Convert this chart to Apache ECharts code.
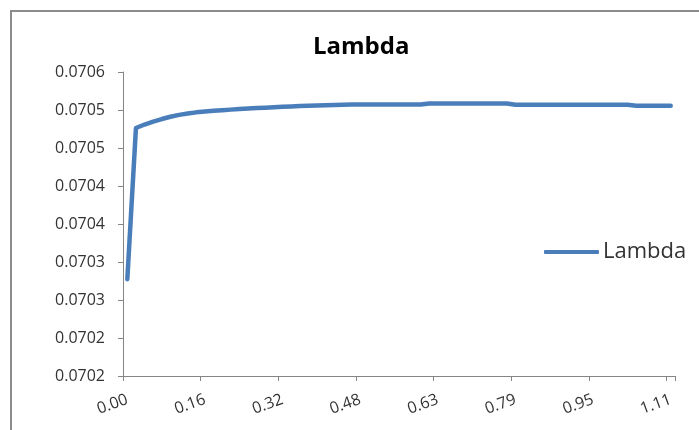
<!DOCTYPE html>
<html>
<head>
<meta charset="utf-8">
<script src="https://cdn.jsdelivr.net/npm/echarts@6/dist/echarts.min.js"></script>
<style>
html,body{margin:0;padding:0;background:#fff;}
#chart{width:699px;height:430px;}
</style>
</head>
<body>
<div id="chart"></div>
<script>
var titleText = 'Lambda';
var seriesName = 'Lambda';
var categories = [
  0.0000, 0.0176, 0.0352, 0.0529, 0.0705, 0.0881, 0.1057, 0.1233,
  0.1410, 0.1586, 0.1762, 0.1938, 0.2114, 0.2290, 0.2467, 0.2643,
  0.2819, 0.2995, 0.3171, 0.3348, 0.3524, 0.3700, 0.3876, 0.4052,
  0.4229, 0.4405, 0.4581, 0.4757, 0.4933, 0.5110, 0.5286, 0.5462,
  0.5638, 0.5814, 0.5990, 0.6167, 0.6343, 0.6519, 0.6695, 0.6871,
  0.7048, 0.7224, 0.7400, 0.7576, 0.7752, 0.7929, 0.8105, 0.8281,
  0.8457, 0.8633, 0.8810, 0.8986, 0.9162, 0.9338, 0.9514, 0.9690,
  0.9867, 1.0043, 1.0219, 1.0395, 1.0571, 1.0748, 1.0924, 1.1100
];
var lambdaValues = [
  0.0702774, 0.0704763, 0.0704809, 0.0704848, 0.0704881, 0.0704911, 0.0704936, 0.0704953,
  0.0704969, 0.0704980, 0.0704989, 0.0704997, 0.0705005, 0.0705013, 0.0705019, 0.0705026,
  0.0705031, 0.0705036, 0.0705042, 0.0705047, 0.0705052, 0.0705056, 0.0705060, 0.0705064,
  0.0705067, 0.0705069, 0.0705072, 0.0705072, 0.0705072, 0.0705072, 0.0705072, 0.0705072,
  0.0705072, 0.0705072, 0.0705072, 0.0705085, 0.0705085, 0.0705085, 0.0705085, 0.0705085,
  0.0705085, 0.0705085, 0.0705085, 0.0705085, 0.0705085, 0.0705069, 0.0705069, 0.0705069,
  0.0705069, 0.0705069, 0.0705069, 0.0705069, 0.0705069, 0.0705069, 0.0705069, 0.0705069,
  0.0705069, 0.0705069, 0.0705069, 0.0705055, 0.0705055, 0.0705055, 0.0705055, 0.0705055
];
var yMin = 0.07015;
var yMax = 0.07055;
var yStep = 0.00005;
var yTickLabels = ['0.0702', '0.0702', '0.0703', '0.0703', '0.0704', '0.0704', '0.0705', '0.0705', '0.0706'];

var chart = echarts.init(document.getElementById('chart'), null, {renderer: 'canvas'});
var axisColor = '#868686';
var textColor = '#333333';
var fontFam = '"Open Sans", "Liberation Sans", sans-serif';

chart.setOption({
  animation: false,
  backgroundColor: '#ffffff',
  graphic: [{
    type: 'line',
    shape: {x1: 11, y1: 11, x2: 699, y2: 11},
    style: {stroke: '#8c8c8c', lineWidth: 2},
    silent: true
  }, {
    type: 'line',
    shape: {x1: 11, y1: 10, x2: 11, y2: 430},
    style: {stroke: '#8c8c8c', lineWidth: 2},
    silent: true
  }],
  title: {
    text: titleText,
    left: 308,
    top: 30,
    textStyle: {fontFamily: fontFam, fontSize: 24, fontWeight: 'bold', color: '#000'}
  },
  legend: {
    data: [{name: seriesName, icon: 'roundRect'}],
    orient: 'vertical',
    left: 539,
    top: 236,
    itemWidth: 55,
    itemHeight: 4,
    itemGap: 0,
    itemStyle: {color: '#4a7ebb'},
    textStyle: {fontFamily: fontFam, fontSize: 22, color: textColor, padding: [0, 0, 0, -1]}
  },
  grid: {left: 123, top: 72, right: 24, bottom: 54, containLabel: false},
  xAxis: {
    type: 'category',
    data: categories,
    boundaryGap: true,
    axisLine: {lineStyle: {color: axisColor, width: 1}},
    axisTick: {show: true, interval: 8, length: 5, lineStyle: {color: axisColor}},
    axisLabel: {
      interval: 8,
      rotate: 20,
      margin: 23,
      fontFamily: fontFam,
      fontSize: 16,
      color: textColor,
      formatter: function (v) { return Number(v).toFixed(2); }
    },
    splitLine: {show: false}
  },
  yAxis: {
    type: 'value',
    min: yMin,
    max: yMax,
    interval: yStep,
    axisLine: {show: true, lineStyle: {color: axisColor, width: 1}},
    axisTick: {show: true, length: 5, lineStyle: {color: axisColor}},
    axisLabel: {
      margin: 18,
      fontFamily: fontFam,
      fontSize: 16,
      color: textColor,
      formatter: function (v) {
        var i = Math.round((v - yMin) / yStep);
        return yTickLabels[i] !== undefined ? yTickLabels[i] : '';
      }
    },
    splitLine: {show: false}
  },
  series: [{
    name: seriesName,
    type: 'line',
    data: lambdaValues,
    symbol: 'none',
    smooth: false,
    lineStyle: {color: '#4a7ebb', width: 4.5, cap: 'round', join: 'round'},
    itemStyle: {color: '#4a7ebb'}
  }]
});
</script>
</body>
</html>
